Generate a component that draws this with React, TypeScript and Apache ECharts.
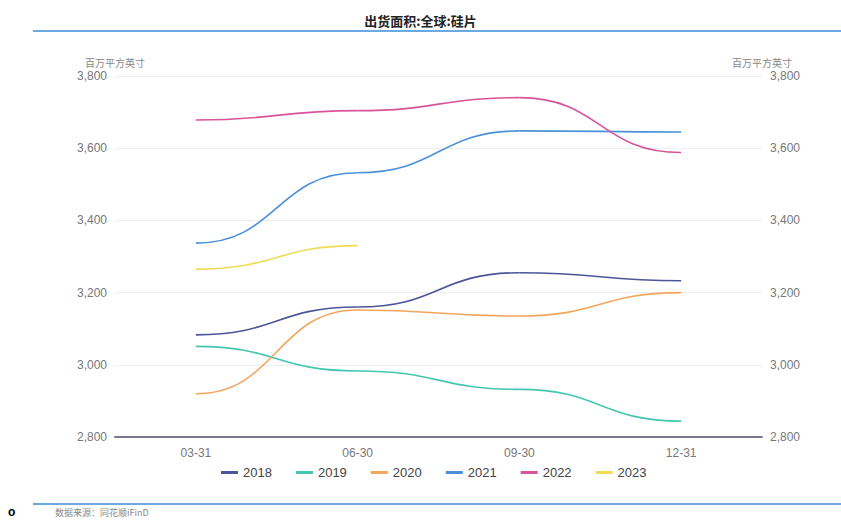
import React, { useEffect, useRef } from "react";
import * as echarts from "echarts";

const categories = ["03-31", "06-30", "09-30", "12-31"];
const seriesNames = ["2018", "2019", "2020", "2021", "2022", "2023"];
const values2018 = [3083, 3160, 3255, 3233];
const values2019 = [3051, 2983, 2932, 2844];
const values2020 = [2920, 3152, 3135, 3200];
const values2021 = [3337, 3532, 3648, 3645];
const values2022 = [3678, 3704, 3740, 3588];
const values2023 = [3265, 3330];
const colors = ["#4b5699", "#45c6b1", "#f4a55c", "#4a91d9", "#d9539a", "#f0db55"];
const yMin = 2800;
const yMax = 3800;
const yInterval = 200;

function segments(vals: number[]) {
  const out: number[][] = [];
  for (let i = 0; i < vals.length - 1; i++) out.push([i, vals[i], vals[i + 1]]);
  return out;
}

export default function App() {
  const ref = useRef<HTMLDivElement>(null);
  useEffect(() => {
    document.body.style.margin = "0";
    const chart = echarts.init(ref.current!, null, { renderer: "svg" });
    const data = [values2018, values2019, values2020, values2021, values2022, values2023];
    const yAxisCommon = {
      type: "value" as const,
      min: yMin,
      max: yMax,
      interval: yInterval,
      name: "百万平方英寸",
      nameLocation: "end" as const,
      nameGap: 9,
      nameTextStyle: { color: "#888", fontSize: 10, fontFamily: "Noto Sans CJK SC", align: "center" },
      axisLine: { show: false },
      axisTick: { show: false },
      axisLabel: {
        color: "#777",
        fontSize: 12,
        fontFamily: "Liberation Sans",
        formatter: (v: number) => v.toLocaleString("en-US"),
      },
    };
    chart.setOption({
      animation: false,
      color: colors,
      title: {
        text: "出货面积:全球:硅片",
        left: "center",
        top: 9,
        textStyle: { fontSize: 13, fontWeight: "bold", color: "#222", fontFamily: "Noto Sans CJK SC" },
      },
      grid: { left: 115, right: 79, top: 76, bottom: 85 },
      legend: {
        data: seriesNames,
        top: 461,
        left: 216,
        itemWidth: 17,
        itemHeight: 3,
        itemGap: 24,
        icon: "rect",
        textStyle: { fontSize: 13, color: "#444", fontFamily: "Liberation Sans" },
      },
      xAxis: {
        type: "category",
        data: categories,
        boundaryGap: true,
        axisLine: { lineStyle: { color: "#777790", width: 2 } },
        axisTick: { show: false },
        axisLabel: { color: "#777", fontSize: 12, fontFamily: "Liberation Sans", margin: 10 },
      },
      yAxis: [
        { ...yAxisCommon, position: "left", splitLine: { lineStyle: { color: "#eeeeee" } } },
        { ...yAxisCommon, position: "right", splitLine: { show: false } },
      ],
      series: seriesNames.map((n, i) => ({
        name: n,
        type: "custom",
        data: segments(data[i]),
        encode: { x: 0, y: [1, 2] },
        itemStyle: { color: colors[i] },
        renderItem: (params: any, api: any) => {
          const x = api.value(0);
          const p0 = api.coord([x, api.value(1)]);
          const p1 = api.coord([x + 1, api.value(2)]);
          const mx = (p0[0] + p1[0]) / 2;
          return {
            type: "bezierCurve",
            shape: { x1: p0[0], y1: p0[1], x2: p1[0], y2: p1[1], cpx1: mx, cpy1: p0[1], cpx2: mx, cpy2: p1[1] },
            style: { stroke: colors[i], lineWidth: 1.6, fill: null },
          };
        },
      })),
      graphic: [
        { type: "line", shape: { x1: 33, y1: 31, x2: 841, y2: 31 }, style: { stroke: "#3a8dd8", lineWidth: 1.5 } },
        { type: "line", shape: { x1: 33, y1: 504, x2: 841, y2: 504 }, style: { stroke: "#3a8dd8", lineWidth: 1.5 } },
        {
          type: "text",
          x: 55,
          y: 508,
          style: { text: "数据来源：同花顺iFinD", fontSize: 9, fill: "#888", fontFamily: "Noto Sans CJK SC" },
        },
        {
          type: "text",
          x: 8,
          y: 506,
          style: { text: "o", fontSize: 12, fill: "#000", fontFamily: "Liberation Sans", fontWeight: "bold" },
        },
      ],
    });
    return () => chart.dispose();
  }, []);
  return <div ref={ref} style={{ width: 841, height: 522 }} />;
}
